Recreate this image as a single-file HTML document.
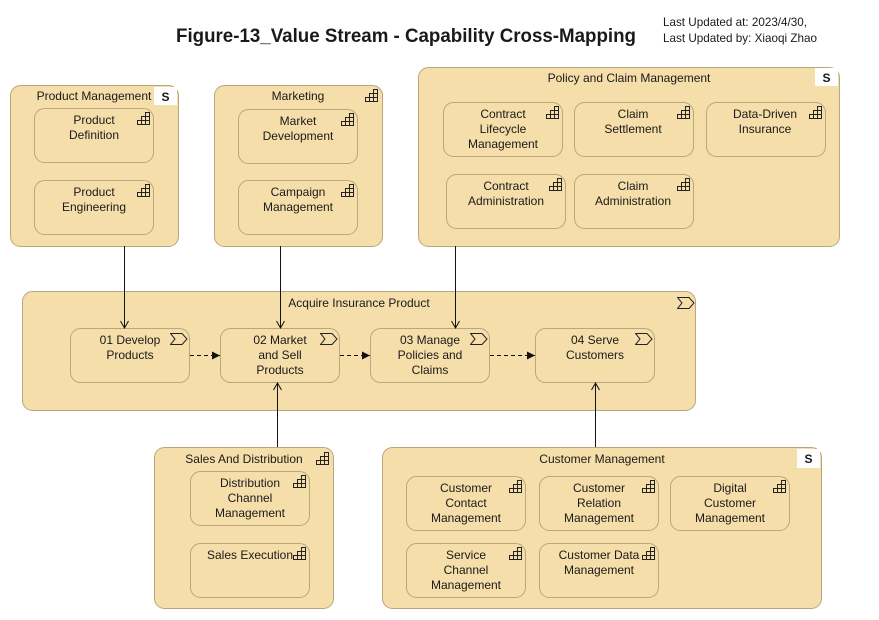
<!DOCTYPE html>
<html><head><meta charset="utf-8"><style>
html,body{margin:0;padding:0;background:#fff;width:879px;height:620px;overflow:hidden}
svg text{font-family:"Liberation Sans",sans-serif;font-size:12px;fill:#1a1a1a}
</style></head><body>
<svg width="879" height="620" viewBox="0 0 879 620" xmlns="http://www.w3.org/2000/svg">
<defs>
<symbol id="cap" viewBox="0 0 13 13" width="13" height="13">
<path d="M0.5,12.5H12.5V0.5H8.5V4.5H4.5V8.5H0.5Z M4.5,12.5V8.5 M8.5,12.5V4.5 M4.5,8.5H12.5 M8.5,4.5H12.5" fill="none" stroke="#222" stroke-width="1"/>
</symbol>
<symbol id="vs" viewBox="0 0 18 12" width="18" height="12">
<path d="M0.5,0.5H12L17,6L12,11.5H0.5L5,6Z" fill="none" stroke="#222" stroke-width="1"/>
</symbol>
<marker id="ah" markerWidth="10" markerHeight="10" refX="8" refY="5" orient="auto" markerUnits="userSpaceOnUse">
<path d="M1,1L8,5L1,9" fill="none" stroke="#111" stroke-width="1"/>
</marker>
<marker id="ahf" markerWidth="10" markerHeight="10" refX="8" refY="5" orient="auto" markerUnits="userSpaceOnUse">
<path d="M0,1L8,5L0,9Z" fill="#111"/>
</marker>
</defs>
<g fill="#f5dea9" stroke="#b9a67c" stroke-width="1">
<rect x="10.5" y="85.5" width="168" height="161" rx="10"/>
<rect x="214.5" y="85.5" width="168" height="161" rx="10"/>
<rect x="418.5" y="67.5" width="421" height="179" rx="10"/>
<rect x="22.5" y="291.5" width="673" height="119" rx="10"/>
<rect x="154.5" y="447.5" width="179" height="161" rx="10"/>
<rect x="382.5" y="447.5" width="439" height="161" rx="10"/>
<rect x="34.5" y="108.5" width="119" height="54" rx="10"/>
<rect x="34.5" y="180.5" width="119" height="54" rx="10"/>
<rect x="238.5" y="109.5" width="119" height="54" rx="10"/>
<rect x="238.5" y="180.5" width="119" height="54" rx="10"/>
<rect x="443.5" y="102.5" width="119" height="54" rx="10"/>
<rect x="574.5" y="102.5" width="119" height="54" rx="10"/>
<rect x="706.5" y="102.5" width="119" height="54" rx="10"/>
<rect x="446.5" y="174.5" width="119" height="54" rx="10"/>
<rect x="574.5" y="174.5" width="119" height="54" rx="10"/>
<rect x="70.5" y="328.5" width="119" height="54" rx="10"/>
<rect x="220.5" y="328.5" width="119" height="54" rx="10"/>
<rect x="370.5" y="328.5" width="119" height="54" rx="10"/>
<rect x="535.5" y="328.5" width="119" height="54" rx="10"/>
<rect x="190.5" y="471.5" width="119" height="54" rx="10"/>
<rect x="190.5" y="543.5" width="119" height="54" rx="10"/>
<rect x="406.5" y="476.5" width="119" height="54" rx="10"/>
<rect x="539.5" y="476.5" width="119" height="54" rx="10"/>
<rect x="670.5" y="476.5" width="119" height="54" rx="10"/>
<rect x="406.5" y="543.5" width="119" height="54" rx="10"/>
<rect x="539.5" y="543.5" width="119" height="54" rx="10"/>
</g>
<!-- S boxes -->
<g fill="#fff"><rect x="154" y="87" width="23" height="18"/><rect x="815" y="68" width="23" height="18"/><rect x="797" y="449" width="23" height="19"/></g>
<g font-weight="bold" text-anchor="middle"><text x="165.5" y="101" style="font-weight:bold">S</text><text x="826.5" y="82" style="font-weight:bold">S</text><text x="808.5" y="463" style="font-weight:bold">S</text></g>
<!-- icons -->
<use href="#cap" x="365" y="89"/><use href="#cap" x="316" y="452"/>
<use href="#cap" x="137" y="112"/><use href="#cap" x="137" y="184"/>
<use href="#cap" x="341" y="113"/><use href="#cap" x="341" y="184"/>
<use href="#cap" x="546" y="106"/><use href="#cap" x="677" y="106"/><use href="#cap" x="809" y="106"/>
<use href="#cap" x="549" y="178"/><use href="#cap" x="677" y="178"/>
<use href="#cap" x="293" y="475"/><use href="#cap" x="293" y="547"/>
<use href="#cap" x="509" y="480"/><use href="#cap" x="642" y="480"/><use href="#cap" x="773" y="480"/>
<use href="#cap" x="509" y="547"/><use href="#cap" x="642" y="547"/>
<use href="#vs" x="677" y="297"/>
<use href="#vs" x="170" y="333"/><use href="#vs" x="320" y="333"/><use href="#vs" x="470" y="333"/><use href="#vs" x="635" y="333"/>
<!-- connectors -->
<g stroke="#111" stroke-width="1" fill="none">
<line x1="124.5" y1="246" x2="124.5" y2="328" marker-end="url(#ah)"/>
<line x1="280.5" y1="246" x2="280.5" y2="328" marker-end="url(#ah)"/>
<line x1="455.5" y1="246" x2="455.5" y2="328" marker-end="url(#ah)"/>
<line x1="277.5" y1="447" x2="277.5" y2="383" marker-end="url(#ah)"/>
<line x1="595.5" y1="447" x2="595.5" y2="383" marker-end="url(#ah)"/>
<g stroke-dasharray="4,3">
<line x1="190" y1="355.5" x2="220" y2="355.5" marker-end="url(#ahf)"/>
<line x1="340" y1="355.5" x2="370" y2="355.5" marker-end="url(#ahf)"/>
<line x1="490" y1="355.5" x2="535" y2="355.5" marker-end="url(#ahf)"/>
</g>
</g>
<!-- title -->
<text x="406" y="42" text-anchor="middle" style="font-size:19px;font-weight:bold" textLength="460" lengthAdjust="spacingAndGlyphs">Figure-13_Value Stream - Capability Cross-Mapping</text>
<text x="663" y="26" textLength="144" lengthAdjust="spacingAndGlyphs">Last Updated at: 2023/4/30,</text>
<text x="663" y="42" textLength="154" lengthAdjust="spacingAndGlyphs">Last Updated by: Xiaoqi Zhao</text>
<g text-anchor="middle">
<text x="94" y="100">Product Management</text>
<text x="298" y="100">Marketing</text>
<text x="629" y="82">Policy and Claim Management</text>
<text x="359" y="307">Acquire Insurance Product</text>
<text x="244" y="463">Sales And Distribution</text>
<text x="602" y="463">Customer Management</text>
<text x="94" y="124">Product</text><text x="94" y="139">Definition</text>
<text x="94" y="196">Product</text><text x="94" y="211">Engineering</text>
<text x="298" y="125">Market</text><text x="298" y="140">Development</text>
<text x="298" y="196">Campaign</text><text x="298" y="211">Management</text>
<text x="503" y="118">Contract</text><text x="503" y="133">Lifecycle</text><text x="503" y="148">Management</text>
<text x="633" y="118">Claim</text><text x="633" y="133">Settlement</text>
<text x="765" y="118">Data-Driven</text><text x="765" y="133">Insurance</text>
<text x="506" y="190">Contract</text><text x="506" y="205">Administration</text>
<text x="633" y="190">Claim</text><text x="633" y="205">Administration</text>
<text x="130" y="344">01 Develop</text><text x="130" y="359">Products</text>
<text x="280" y="344">02 Market</text><text x="280" y="359">and Sell</text><text x="280" y="374">Products</text>
<text x="430" y="344">03 Manage</text><text x="430" y="359">Policies and</text><text x="430" y="374">Claims</text>
<text x="595" y="344">04 Serve</text><text x="595" y="359">Customers</text>
<text x="250" y="487">Distribution</text><text x="250" y="502">Channel</text><text x="250" y="517">Management</text>
<text x="250" y="559">Sales Execution</text>
<text x="466" y="492">Customer</text><text x="466" y="507">Contact</text><text x="466" y="522">Management</text>
<text x="599" y="492">Customer</text><text x="599" y="507">Relation</text><text x="599" y="522">Management</text>
<text x="730" y="492">Digital</text><text x="730" y="507">Customer</text><text x="730" y="522">Management</text>
<text x="466" y="559">Service</text><text x="466" y="574">Channel</text><text x="466" y="589">Management</text>
<text x="599" y="559">Customer Data</text><text x="599" y="574">Management</text>
</g>
</svg>
</body></html>
